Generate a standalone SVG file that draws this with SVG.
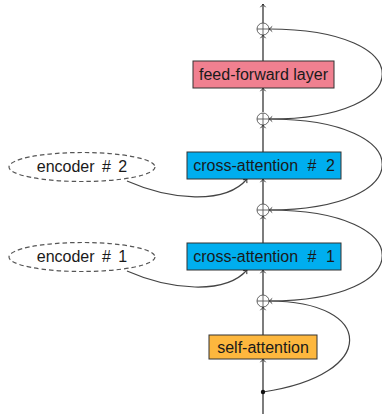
<svg xmlns="http://www.w3.org/2000/svg" width="382" height="414" viewBox="0 0 382 414">
  <defs>
    <marker id="tip" markerUnits="userSpaceOnUse" markerWidth="10" markerHeight="10" viewBox="-5 -5 10 10" refX="0" refY="0" orient="auto">
      <path d="M-3.2,-2.6 Q-1.2,-0.6 0,0 Q-1.2,0.6 -3.2,2.6" fill="none" stroke="#222" stroke-width="0.9"/>
    </marker>
    <style>
      .box { stroke: #333; stroke-width: 1; }
      .lbl { font-family: "Liberation Sans", Arial, sans-serif; font-size: 16px; fill: #1a1a1a; text-anchor: middle; }
      .main { stroke: #111; stroke-width: 1.1; fill: none; }
      .skip { stroke: #444; stroke-width: 1.2; fill: none; }
      .enc { fill: none; stroke: #555; stroke-width: 1.2; stroke-dasharray: 4.5 3; }
      .add { fill: #fff; stroke: #555; stroke-width: 0.9; }
    </style>
  </defs>

  <!-- main stream and residual connections -->
  <g id="connectors">
    <line class="main" x1="263" y1="414" x2="263" y2="359" marker-end="url(#tip)"/>
    <line class="main" x1="263" y1="335" x2="263" y2="307" marker-end="url(#tip)"/>
    <line class="main" x1="263" y1="295" x2="263" y2="270" marker-end="url(#tip)"/>
    <line class="main" x1="263" y1="243" x2="263" y2="216" marker-end="url(#tip)"/>
    <line class="main" x1="263" y1="204" x2="263" y2="179" marker-end="url(#tip)"/>
    <line class="main" x1="263" y1="152" x2="263" y2="125" marker-end="url(#tip)"/>
    <line class="main" x1="263" y1="112" x2="263" y2="88" marker-end="url(#tip)"/>
    <line class="main" x1="263" y1="61" x2="263" y2="35" marker-end="url(#tip)"/>
    <line class="main" x1="263" y1="23" x2="263" y2="4" marker-end="url(#tip)"/>

    <path class="skip" d="M263,392 C380,375 375,301 269,301" marker-end="url(#tip)"/>
    <path class="skip" d="M269,301 C420,301 420,210 269,210" marker-end="url(#tip)"/>
    <path class="skip" d="M269,210 C420,210 420,119 269,119" marker-end="url(#tip)"/>
    <path class="skip" d="M269,119 C420,119 420,29 269,29" marker-end="url(#tip)"/>

    <path class="skip" d="M127,181 C170,200 225,205 247,179" marker-end="url(#tip)"/>
    <path class="skip" d="M127,271 C170,290 225,295 247,270" marker-end="url(#tip)"/>
    <circle cx="263" cy="392" r="2.2" fill="#111"/>
  </g>

  <!-- residual additions -->
  <g id="add4"><circle class="add" cx="263" cy="29" r="6"/><path d="M257,29 H269 M263,23 V35" stroke="#555" stroke-width="0.9"/></g>
  <g id="add3"><circle class="add" cx="263" cy="119" r="6"/><path d="M257,119 H269 M263,113 V125" stroke="#555" stroke-width="0.9"/></g>
  <g id="add2"><circle class="add" cx="263" cy="210" r="6"/><path d="M257,210 H269 M263,204 V216" stroke="#555" stroke-width="0.9"/></g>
  <g id="add1"><circle class="add" cx="263" cy="301" r="6"/><path d="M257,301 H269 M263,295 V307" stroke="#555" stroke-width="0.9"/></g>

  <g id="feed-forward">
    <rect class="box" x="193" y="61" width="141" height="27" fill="#F08090"/>
    <text class="lbl" x="263.5" y="80">feed-forward layer</text>
  </g>
  <g id="cross-attention-2">
    <rect class="box" x="187" y="152" width="154" height="27" fill="#00AEEF"/>
    <text class="lbl" x="264" y="171" word-spacing="5">cross-attention # 2</text>
  </g>
  <g id="cross-attention-1">
    <rect class="box" x="187" y="243" width="154" height="27" fill="#00AEEF"/>
    <text class="lbl" x="264" y="262" word-spacing="5">cross-attention # 1</text>
  </g>
  <g id="self-attention">
    <rect class="box" x="209" y="335" width="108" height="24" fill="#FDB73E"/>
    <text class="lbl" x="263" y="353">self-attention</text>
  </g>
  <g id="encoder-2">
    <ellipse class="enc" cx="82" cy="167" rx="73" ry="14.5"/>
    <text class="lbl" x="82" y="172" word-spacing="3">encoder # 2</text>
  </g>
  <g id="encoder-1">
    <ellipse class="enc" cx="82" cy="257" rx="73" ry="14.5"/>
    <text class="lbl" x="82" y="262" word-spacing="3">encoder # 1</text>
  </g>
</svg>
